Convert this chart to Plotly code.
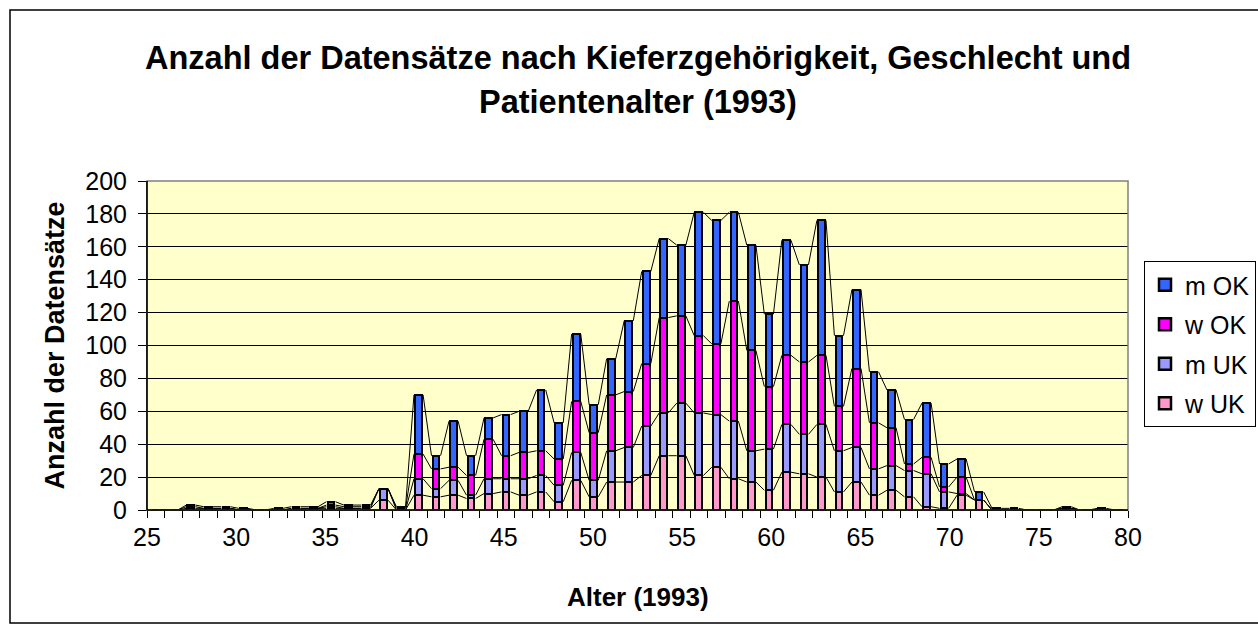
import plotly.graph_objects as go

ages = list(range(25, 81))
w_uk = [0,0,0,0,1,0,0,0,0,1,1,1,1,6,0,9,8,9,7,10,11,9,11,5,18,8,17,17,21,33,33,21,26,19,17,12,23,22,20,11,17,9,12,8,2,1,9,6,0,0,0,0,1,0,0,0]
m_uk = [0,0,1,1,0,0,0,0,1,0,1,0,0,7,0,10,5,9,2,9,8,10,10,10,17,10,19,21,30,26,32,38,32,35,19,25,29,24,32,25,21,16,15,16,20,10,1,0,0,0,0,0,0,0,0,0]
w_ok = [0,0,1,0,0,0,0,0,0,0,1,1,1,0,1,15,12,8,12,24,14,16,15,16,31,29,34,34,38,58,53,47,43,73,61,38,42,44,42,27,48,28,23,4,10,3,10,0,0,0,0,0,0,0,0,0]
m_ok = [0,0,1,1,1,1,0,1,1,1,2,1,1,0,1,36,8,28,12,13,25,25,37,22,41,17,22,43,56,48,43,75,75,54,64,44,70,59,82,43,48,31,23,27,33,14,11,5,1,1,0,0,1,0,1,0]
tick_labels = [25, 30, 35, 40, 45, 50, 55, 60, 65, 70, 75, 80]
y_ticks = list(range(0, 201, 20))

series = [("w UK", w_uk, "#FF99CC", 4), ("m UK", m_uk, "#9999FF", 3),
          ("w OK", w_ok, "#FF00FF", 2), ("m OK", m_ok, "#3366FF", 1)]

BAR_W = 0.38
HALF = 0.26

fig = go.Figure()
for name, vals, col, rank in series:
    fig.add_trace(go.Bar(x=ages, y=vals, name=name, width=BAR_W,
                         marker=dict(color=col, line=dict(color="black", width=2.5)),
                         legendgroup=name, legendrank=rank))

# series lines (cumulative tops joined between neighbouring bars)
cum = [0] * len(ages)
for name, vals, col, rank in series:
    cum = [c + v for c, v in zip(cum, vals)]
    xs, ys = [], []
    for k in range(len(ages) - 1):
        xs += [ages[k] + HALF, ages[k + 1] - HALF, None]
        ys += [cum[k], cum[k + 1], None]
    fig.add_trace(go.Scatter(x=xs, y=ys, mode="lines", line=dict(color="black", width=1),
                             showlegend=False, hoverinfo="skip"))

# carrier for the labelled age axis
fig.add_trace(go.Scatter(x=tick_labels, y=[0] * len(tick_labels), xaxis="x2",
                         mode="markers", marker=dict(opacity=0), showlegend=False,
                         hoverinfo="skip"))

L, R, T, B = 147, 130, 181, 124
W, H = 1258, 634
pw, ph = W - L - R, H - T - B

def px_x(x):
    return (x - L) / pw

def px_y(y):
    return (H - B - y) / ph

font = "Liberation Sans, Arial, sans-serif"

fig.update_layout(
    width=W, height=H,
    margin=dict(l=L, r=R, t=T, b=B, autoexpand=False),
    paper_bgcolor="white", plot_bgcolor="#FFFFCC",
    barmode="stack", bargap=0,
    font=dict(family=font, color="black"),
    showlegend=True,
    legend=dict(x=px_x(1144), y=px_y(261), xanchor="left", yanchor="top",
                traceorder="grouped", tracegroupgap=4,
                bordercolor="black", borderwidth=1, bgcolor="white",
                font=dict(size=25, family=font)),
    xaxis=dict(range=[ages[0] - 0.5, ages[-1] + 0.5],
               tickvals=[a - 0.5 for a in ages] + [ages[-1] + 0.5],
               ticktext=[""] * (len(ages) + 1),
               ticks="outside", ticklen=7, tickcolor="black", tickwidth=1,
               showline=True, linecolor="black", linewidth=1,
               showgrid=False, zeroline=False, fixedrange=True),
    xaxis2=dict(overlaying="x", anchor="y", side="bottom",
                range=[tick_labels[0], tick_labels[-1]], tickvals=tick_labels,
                ticks="", showline=False, showgrid=False, zeroline=False,
                tickfont=dict(size=25, family=font), ticklabelstandoff=10),
    yaxis=dict(range=[0, 200], tickvals=y_ticks,
               ticks="outside", ticklen=8, tickcolor="black",
               showline=True, linecolor="black", linewidth=1,
               showgrid=True, gridcolor="black", gridwidth=1, zeroline=False,
               tickfont=dict(size=25, family=font), ticklabelstandoff=6),
    shapes=[
        dict(type="rect", xref="paper", yref="paper", x0=0, x1=1, y0=0, y1=1,
             line=dict(color="#808080", width=1.5), layer="above"),
        dict(type="line", xref="paper", yref="paper", x0=0, x1=0, y0=0, y1=1,
             line=dict(color="black", width=1.5), layer="above"),
        dict(type="line", xref="paper", yref="paper", x0=0, x1=1, y0=0, y1=0,
             line=dict(color="black", width=1.5), layer="above"),
        dict(type="rect", xref="paper", yref="paper",
             x0=px_x(10), x1=px_x(1272), y0=px_y(623), y1=px_y(10),
             line=dict(color="black", width=1.5), layer="below"),
    ],
    annotations=[
        dict(text="<b>Anzahl der Datensätze nach Kieferzgehörigkeit, Geschlecht und</b>",
             xref="paper", yref="paper", x=0.5, y=px_y(58), showarrow=False,
             xanchor="center", yanchor="middle", font=dict(size=32.5, family=font)),
        dict(text="<b>Patientenalter (1993)</b>",
             xref="paper", yref="paper", x=0.5, y=px_y(102), showarrow=False,
             xanchor="center", yanchor="middle", font=dict(size=32.5, family=font)),
        dict(text="<b>Anzahl der Datensätze</b>", textangle=-90,
             xref="paper", yref="paper", x=px_x(54), y=0.5, showarrow=False,
             xanchor="center", yanchor="middle", font=dict(size=27, family=font)),
        dict(text="<b>Alter (1993)</b>",
             xref="paper", yref="paper", x=0.5, y=px_y(597), showarrow=False,
             xanchor="center", yanchor="middle", font=dict(size=26, family=font)),
    ],
)

fig.write_html("out.html", config={"displayModeBar": False},
               post_script="document.body.style.margin='0';")
